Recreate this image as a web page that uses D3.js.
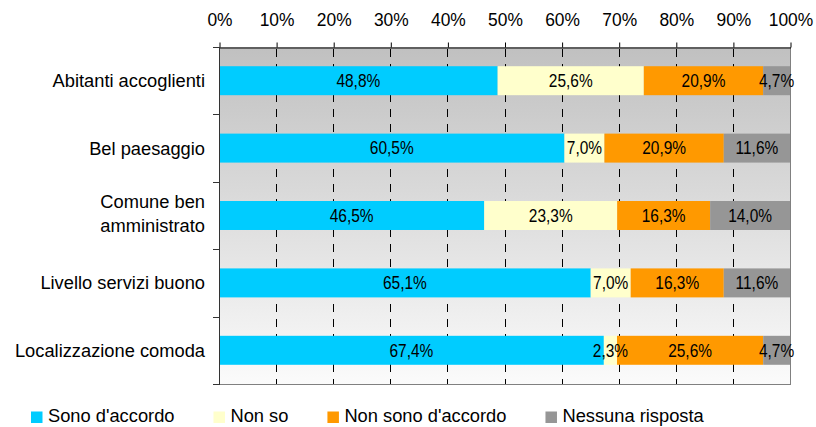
<!DOCTYPE html>
<html>
<head>
<meta charset="utf-8">
<script src="https://cdn.jsdelivr.net/npm/d3@7"></script>
<style>
  html, body { margin: 0; padding: 0; background: #ffffff; }
  svg { display: block; font-family: "Liberation Sans", Arial, sans-serif; }
</style>
</head>
<body>
<svg id="chart" width="816" height="427"></svg>
<script>
// ---- data ----
const categories = [
  "Abitanti accoglienti",
  "Bel paesaggio",
  "Comune ben\namministrato",
  "Livello servizi buono",
  "Localizzazione comoda"
];
const seriesNames = ["Sono d'accordo", "Non so", "Non sono d'accordo", "Nessuna risposta"];
const sonoDAccordo     = [48.8, 60.5, 46.5, 65.1, 67.4];
const nonSo            = [25.6, 7.0, 23.3, 7.0, 2.3];
const nonSonoDAccordo  = [20.9, 20.9, 16.3, 16.3, 25.6];
const nessunaRisposta  = [4.7, 11.6, 14.0, 11.6, 4.7];
const seriesColors = ["#00ccff", "#ffffcc", "#ff9900", "#969696"];
const tickValues = [0, 0.1, 0.2, 0.3, 0.4, 0.5, 0.6, 0.7, 0.8, 0.9, 1.0];

const seriesValues = [sonoDAccordo, nonSo, nonSonoDAccordo, nessunaRisposta];
const rows = categories.map((c, i) => {
  const r = { category: c };
  seriesNames.forEach((s, j) => { r[s] = seriesValues[j][i]; });
  return r;
});

// ---- layout ----
const svg = d3.select("#chart");
const plot = { left: 219, right: 790, top: 47, bottom: 384 };

const x = d3.scaleLinear().domain([0, 1]).range([plot.left, plot.right]);
const y = d3.scaleBand().domain(categories).range([plot.top, plot.bottom])
  .paddingInner(0.57).paddingOuter(0.285);

const stack = d3.stack().keys(seriesNames).offset(d3.stackOffsetExpand);
const stacked = stack(rows);

// background gradient
const defs = svg.append("defs");
const grad = defs.append("linearGradient").attr("id", "bg")
  .attr("x1", 0).attr("y1", 0).attr("x2", 0).attr("y2", 1);
grad.append("stop").attr("offset", "0%").attr("stop-color", "#c0c0c0");
grad.append("stop").attr("offset", "100%").attr("stop-color", "#fbfbfb");

svg.append("rect").attr("width", 816).attr("height", 427).attr("fill", "#ffffff");

svg.append("rect")
  .attr("x", plot.left).attr("y", plot.top)
  .attr("width", plot.right - plot.left).attr("height", plot.bottom - plot.top)
  .attr("fill", "url(#bg)");

// dashed gridlines
svg.append("g").selectAll("line")
  .data(tickValues.filter(v => v > 0 && v < 1))
  .join("line")
  .attr("x1", d => Math.round(x(d)) + 0.5)
  .attr("x2", d => Math.round(x(d)) + 0.5)
  .attr("y1", plot.top).attr("y2", plot.bottom)
  .attr("stroke", "#000")
  .attr("stroke-width", 1)
  .attr("stroke-dasharray", "8,7")
  .attr("stroke-dashoffset", 13);

// plot border right & bottom
svg.append("line")
  .attr("x1", plot.right + 0.5).attr("x2", plot.right + 0.5)
  .attr("y1", plot.top).attr("y2", plot.bottom)
  .attr("stroke", "#808080");
svg.append("line")
  .attr("x1", plot.left).attr("x2", plot.right + 1)
  .attr("y1", plot.bottom + 0.5).attr("y2", plot.bottom + 0.5)
  .attr("stroke", "#808080");

// bars
const layers = svg.append("g").selectAll("g")
  .data(stacked).join("g")
  .attr("fill", (d, i) => seriesColors[i]);

layers.selectAll("rect")
  .data(d => d)
  .join("rect")
  .attr("x", d => x(d[0]))
  .attr("width", d => x(d[1]) - x(d[0]))
  .attr("y", d => y(d.data.category))
  .attr("height", y.bandwidth());

// data labels
const fmt = v => v.toFixed(1).replace(".", ",") + "%";
const labelData = [];
stacked.forEach((layer, i) => {
  layer.forEach(d => {
    labelData.push({
      cx: (x(d[0]) + x(d[1])) / 2,
      cy: y(d.data.category) + y.bandwidth() / 2,
      text: fmt(d.data[layer.key])
    });
  });
});
svg.append("g").selectAll("text")
  .data(labelData).join("text")
  .attr("transform", d => `translate(${d.cx},${d.cy + 6.3}) scale(0.86,1)`)
  .attr("text-anchor", "middle")
  .attr("font-size", "18px")
  .attr("fill", "#000")
  .text(d => d.text);

// top axis
const axisTop = d3.axisTop(x)
  .tickValues(tickValues)
  .tickFormat(d3.format(".0%"))
  .tickSize(5)
  .tickSizeOuter(0)
  .tickPadding(17);
const gTop = svg.append("g")
  .attr("transform", `translate(0.5,${plot.top + 0.5})`)
  .call(axisTop);
gTop.select(".domain").attr("stroke", "#000");
gTop.selectAll(".tick line").attr("stroke", "#000");
gTop.selectAll(".tick text")
  .attr("font-size", "18.5px")
  .attr("transform", "scale(0.94,1)")
  .attr("font-family", "'Liberation Sans', Arial, sans-serif")
  .attr("fill", "#000");

// left axis (category boundaries)
const gap = (y.step() - y.bandwidth()) / 2;
const boundaries = categories.map(c => y(c) - gap).concat([y(categories[categories.length - 1]) + y.bandwidth() + gap]);
svg.append("line")
  .attr("x1", plot.left + 0.5).attr("x2", plot.left + 0.5)
  .attr("y1", plot.top).attr("y2", plot.bottom + 1)
  .attr("stroke", "#333");
svg.append("g").selectAll("line")
  .data(boundaries).join("line")
  .attr("x1", plot.left - 6).attr("x2", plot.left)
  .attr("y1", d => Math.round(d) + 0.5).attr("y2", d => Math.round(d) + 0.5)
  .attr("stroke", "#333");

// category labels
const catG = svg.append("g");
categories.forEach(c => {
  const lines = c.split("\n");
  const cy = y(c) + y.bandwidth() / 2;
  const t = catG.append("text")
    .attr("text-anchor", "end")
    .attr("font-size", "18.3px")
    .attr("fill", "#000");
  if (lines.length === 1) {
    t.append("tspan").attr("x", 205).attr("y", cy + 6.5).text(lines[0]);
  } else {
    t.append("tspan").attr("x", 205).attr("y", cy - 7.8).text(lines[0]);
    t.append("tspan").attr("x", 205).attr("y", cy + 16.8).text(lines[1]);
  }
});

// legend
const legend = svg.append("g");
let lx = 31;
seriesNames.forEach((s, i) => {
  legend.append("rect")
    .attr("x", lx).attr("y", 411.5)
    .attr("width", 11.5).attr("height", 11.5)
    .attr("fill", seriesColors[i]);
  const t = legend.append("text")
    .attr("x", lx + 17).attr("y", 422.3)
    .attr("font-size", "18.3px")
    .attr("fill", "#000")
    .text(s);
  const w = t.node().getComputedTextLength();
  lx = lx + 17 + w + 39;
});
</script>
</body>
</html>
